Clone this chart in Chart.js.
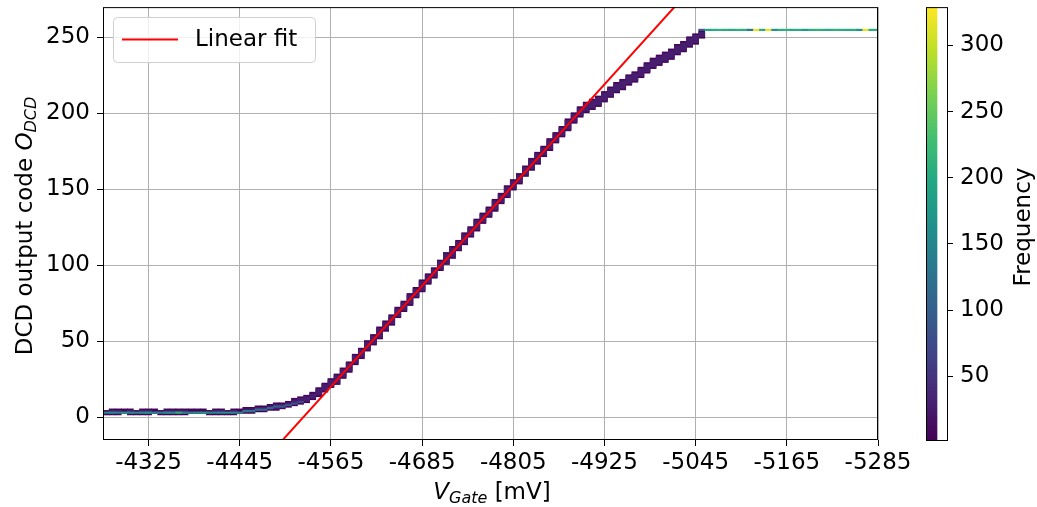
<!DOCTYPE html>
<html>
<head>
<meta charset="utf-8">
<script src="https://cdn.jsdelivr.net/npm/chart.js@4.4.0/dist/chart.umd.min.js"></script>
<style>
  html, body { margin: 0; padding: 0; background: #fff; }
  #wrap { position: relative; width: 1037px; height: 507px; }
  #main { position: absolute; left: 0; top: 0; }
  #cbar { position: absolute; left: 880px; top: 0; }
</style>
</head>
<body>
<div id="wrap">
  <canvas id="main" width="1037" height="507"></canvas>
  <canvas id="cbar" width="157" height="507"></canvas>
</div>
<script>
// axis ticks
const xTicks = [-4325, -4445, -4565, -4685, -4805, -4925, -5045, -5165, -5285];
const yTicks = [0, 50, 100, 150, 200, 250];
const cbarTicks = [50, 100, 150, 200, 250, 300];
const freqMin = 1;
const freqMax = 329;

// 2D histogram: low-count band of each V_Gate bin (mV -> lowest / highest occupied code)
const bandV = [
  -4269, -4277, -4285, -4293, -4301, -4309, -4317, -4325, -4333, -4341,
  -4349, -4357, -4365, -4373, -4381, -4389, -4397, -4405, -4413, -4421,
  -4429, -4437, -4445, -4453, -4461, -4469, -4477, -4485, -4493, -4501,
  -4509, -4517, -4525, -4533, -4541, -4549, -4557, -4565, -4573, -4581,
  -4589, -4597, -4605, -4613, -4621, -4629, -4637, -4645, -4653, -4661,
  -4669, -4677, -4685, -4693, -4701, -4709, -4717, -4725, -4733, -4741,
  -4749, -4757, -4765, -4773, -4781, -4789, -4797, -4805, -4813, -4821,
  -4829, -4837, -4845, -4853, -4861, -4869, -4877, -4885, -4893, -4901,
  -4909, -4917, -4925, -4933, -4941, -4949, -4957, -4965, -4973, -4981,
  -4989, -4997, -5005, -5013, -5021, -5029, -5037, -5045, -5053
];
const bandLo = [
  2, 2, 2, 3, 2, 2, 2, 2, 3, 2, 2, 2, 2, 2, 3, 3, 3, 2, 2, 2, 2, 2, 3,
  3, 3, 4, 4, 5, 5, 6, 7, 8, 9, 10, 12, 14, 17, 20,
  22, 26, 30, 35, 39, 44, 48, 52, 57, 61,
  66, 70, 74, 79, 83, 88, 92, 97, 101, 105,
  110, 114, 119, 123, 128, 132, 136, 141, 145, 150,
  154, 159, 163, 167, 172, 176, 181, 185, 189, 194,
  198, 201, 203, 205, 208, 211, 214, 216, 219, 221,
  224, 227, 230, 232, 234, 236, 239, 241, 244, 246,
  250
];
const bandHi = [
  4, 5, 5, 5, 5, 4, 5, 5, 5, 4, 5, 5, 5, 5, 5, 5, 5, 4, 5, 5, 4, 5, 5,
  6, 6, 7, 7, 8, 9, 9, 10, 12, 13, 14, 16, 19, 22, 25,
  28, 32, 36, 41, 45, 50, 54, 59, 63, 67,
  72, 76, 81, 85, 90, 94, 98, 103, 108, 112,
  116, 121, 125, 130, 134, 138, 143, 147, 152, 156,
  160, 165, 170, 174, 178, 183, 187, 191, 196, 200,
  204, 207, 209, 211, 214, 217, 220, 222, 225, 227,
  230, 233, 236, 238, 240, 242, 245, 247, 250, 252,
  254
];
const bandEdgeFreq = 5;
const bandCoreFreq = 28;

// high-count cells (floor near code 3 and saturation at 255)
const peakV = [
  -4269, -4277, -4285, -4293, -4301, -4309, -4317, -4325, -4333, -4341,
  -4349, -4357, -4365, -4373, -4381, -4389, -4397, -4405, -4413, -4421,
  -4429, -4437, -4445, -4453, -4461, -4469, -4477, -4485, -4493, -4501,
  -4509, -4517, -4525,
  -5053, -5061, -5069, -5077, -5085, -5093, -5101, -5109, -5117, -5125,
  -5133, -5141, -5149, -5157, -5165, -5173, -5181, -5189, -5197, -5205,
  -5213, -5221, -5229, -5237, -5245, -5253, -5261, -5269, -5277, -5285
];
const peakCode = [
  3, 3, 3, 3, 3, 3, 3, 3, 3, 3, 3, 3, 3, 3, 3, 3, 3, 3, 3, 3, 3, 3, 3,
  4, 4, 5, 5, 6, 7, 7, 8, 9, 10,
  255, 255, 255, 255, 255, 255, 255, 255, 255, 255,
  255, 255, 255, 255, 255, 255, 255, 255, 255, 255,
  255, 255, 255, 255, 255, 255, 255, 255, 255, 255
];
const peakFreq = [
  150, 160, 145, 170, 155, 150, 160, 175, 150, 145, 165, 155, 210, 150, 145, 160, 170, 155, 145, 150, 160, 150, 140,
  140, 135, 125, 115, 110, 100, 95, 90, 80, 70,
  90, 195, 205, 210, 205, 200, 210, 205, 130, 320,
  205, 320, 170, 205, 210, 200, 205, 175, 205, 210,
  205, 200, 210, 205, 200, 205, 165, 320, 205, 210
];

// linear fit
const fitV = [-4470, -5040];
const fitCode = [-32.4, 282.7];

const viridisStops = ['#440154', '#482475', '#414487', '#355f8d', '#2a788e', '#21918c',
  '#22a884', '#44bf70', '#7ad151', '#bddf26', '#fde725'];

function hexRgb(h) {
  return [parseInt(h.slice(1, 3), 16), parseInt(h.slice(3, 5), 16), parseInt(h.slice(5, 7), 16)];
}

function viridis(t) {
  t = Math.max(0, Math.min(1, t));
  let p = t * (viridisStops.length - 1);
  let i = Math.min(Math.floor(p), viridisStops.length - 2);
  let f = p - i;
  let a = hexRgb(viridisStops[i]);
  let b = hexRgb(viridisStops[i + 1]);
  let c = a.map((v, k) => Math.round(v + (b[k] - v) * f));
  return `rgb(${c[0]},${c[1]},${c[2]})`;
}

function freqColor(f) {
  return viridis((f - freqMin) / (freqMax - freqMin));
}

function richText(ctx, parts, x, y, angle) {
  ctx.save();
  ctx.translate(x, y);
  ctx.rotate(angle);
  let total = 0;
  parts.forEach(p => { ctx.font = p.font; total += ctx.measureText(p.text).width; });
  let cx = -total / 2;
  ctx.fillStyle = '#000';
  ctx.textBaseline = 'alphabetic';
  ctx.textAlign = 'left';
  parts.forEach(p => {
    ctx.font = p.font;
    ctx.fillText(p.text, cx, p.dy || 0);
    cx += ctx.measureText(p.text).width;
  });
  ctx.restore();
}

Chart.defaults.font.family = 'DejaVu Sans';
Chart.defaults.color = '#000';

const FONT = 'DejaVu Sans';
const FS = 23;

let decor = {
  id: 'decor',
  afterDraw(chart) {
    let ctx = chart.ctx;
    let a = chart.chartArea;
    ctx.save();
    ctx.strokeStyle = '#000';
    ctx.lineWidth = 1;
    ctx.strokeRect(a.left + 0.5, a.top + 0.5, a.right - a.left - 1, a.bottom - a.top - 1);

    // legend
    ctx.beginPath();
    ctx.roundRect(113.5, 17.5, 202, 45, 4);
    ctx.fillStyle = 'rgba(255,255,255,0.8)';
    ctx.fill();
    ctx.strokeStyle = '#d0d0d0';
    ctx.stroke();
    ctx.beginPath();
    ctx.moveTo(122, 39.5);
    ctx.lineTo(178, 39.5);
    ctx.strokeStyle = '#ff0000';
    ctx.lineWidth = 2;
    ctx.stroke();
    ctx.fillStyle = '#000';
    ctx.font = `${FS}px ${FONT}`;
    ctx.textBaseline = 'middle';
    ctx.fillText('Linear fit', 195, 40);
    ctx.restore();

    richText(ctx, [
      { text: 'V', font: `italic ${FS}px ${FONT}` },
      { text: 'Gate', font: `italic 16px ${FONT}`, dy: 4 },
      { text: ' [mV]', font: `${FS}px ${FONT}` }
    ], 492, 499, 0);
    richText(ctx, [
      { text: 'DCD output code ', font: `${FS}px ${FONT}` },
      { text: 'O', font: `italic ${FS}px ${FONT}` },
      { text: 'DCD', font: `italic 16px ${FONT}`, dy: 4 }
    ], 32, 226, -Math.PI / 2);
  }
};

new Chart(document.querySelector('#main'), {
  type: 'bar',
  data: {
    datasets: [
      {
        type: 'line',
        label: 'Linear fit',
        data: fitV.map((v, i) => ({ x: v, y: fitCode[i] })),
        borderColor: '#ff0000',
        borderWidth: 2,
        pointRadius: 0,
        order: 0
      },
      {
        label: 'peak',
        data: peakV.map((v, i) => ({ x: v, y: [peakCode[i] - 0.5, peakCode[i] + 0.5] })),
        backgroundColor: (c) => freqColor(peakFreq[c.dataIndex]),
        order: 1
      },
      {
        label: 'core',
        data: bandV.map((v, i) => ({
          x: v,
          y: bandHi[i] - bandLo[i] >= 3 ? [bandLo[i] + 0.5, bandHi[i] - 0.5] : null
        })),
        backgroundColor: freqColor(bandCoreFreq),
        order: 2
      },
      {
        label: 'band',
        data: bandV.map((v, i) => ({ x: v, y: [bandLo[i] - 0.5, bandHi[i] + 0.5] })),
        backgroundColor: freqColor(bandEdgeFreq),
        order: 3
      }
    ]
  },
  options: {
    responsive: false,
    devicePixelRatio: 1,
    animation: false,
    events: [],
    datasets: {
      bar: { grouped: false, barPercentage: 1, categoryPercentage: 1, borderWidth: 0 }
    },
    layout: { padding: { left: 0, top: 7, right: 159, bottom: 0 } },
    plugins: { legend: { display: false }, tooltip: { enabled: false } },
    scales: {
      x: {
        type: 'linear',
        reverse: true,
        min: -5285,
        max: -4265,
        offset: false,
        afterBuildTicks: (axis) => { axis.ticks = xTicks.map(v => ({ value: v })); },
        afterFit: (s) => { s.height = 67; },
        ticks: { font: { size: FS }, maxRotation: 0, autoSkip: false, padding: 3, callback: (v) => String(v) },
        grid: { color: '#b0b0b0', tickColor: '#000', tickLength: 6, lineWidth: 1, offset: false },
        border: { display: false }
      },
      y: {
        min: -15,
        max: 270,
        beginAtZero: false,
        afterBuildTicks: (axis) => { axis.ticks = yTicks.map(v => ({ value: v })); },
        afterFit: (s) => { s.width = 103; },
        ticks: { font: { size: FS, lineHeight: 0.01 }, padding: 7, callback: (v) => String(v) },
        grid: { color: '#b0b0b0', tickColor: '#000', tickLength: 6, lineWidth: 1 },
        border: { display: false }
      }
    }
  },
  plugins: [decor]
});

// colour bar
let cbarDecor = {
  id: 'cbarDecor',
  afterDraw(chart) {
    let ctx = chart.ctx;
    let a = chart.chartArea;
    ctx.save();
    ctx.strokeStyle = '#000';
    ctx.lineWidth = 1;
    ctx.strokeRect(a.left + 0.5, a.top + 0.5, a.right - a.left - 1, a.bottom - a.top - 1);
    ctx.restore();
    richText(ctx, [{ text: 'Frequency', font: `${FS}px ${FONT}` }], 150, 227, -Math.PI / 2);
  }
};

new Chart(document.querySelector('#cbar'), {
  type: 'bar',
  data: {
    labels: ['Frequency'],
    datasets: [{
      data: [[freqMin, freqMax]],
      barPercentage: 1,
      categoryPercentage: 1,
      borderWidth: 0,
      backgroundColor: (c) => {
        let a = c.chart.chartArea;
        if (!a) return '#440154';
        let g = c.chart.ctx.createLinearGradient(0, a.bottom, 0, a.top);
        viridisStops.forEach((col, i) => g.addColorStop(i / (viridisStops.length - 1), col));
        return g;
      }
    }]
  },
  options: {
    responsive: false,
    devicePixelRatio: 1,
    animation: false,
    events: [],
    layout: { padding: { left: 46, top: 7, right: 0, bottom: 66 } },
    plugins: { legend: { display: false }, tooltip: { enabled: false } },
    scales: {
      x: { display: false, offset: false },
      y: {
        position: 'right',
        min: freqMin,
        max: freqMax,
        beginAtZero: false,
        afterBuildTicks: (axis) => { axis.ticks = cbarTicks.map(v => ({ value: v })); },
        afterFit: (s) => { s.width = 89; },
        ticks: { font: { size: FS, lineHeight: 0.01 }, padding: 7 },
        grid: { drawOnChartArea: false, tickColor: '#000', tickLength: 5 },
        border: { display: false }
      }
    }
  },
  plugins: [cbarDecor]
});
</script>
</body>
</html>
